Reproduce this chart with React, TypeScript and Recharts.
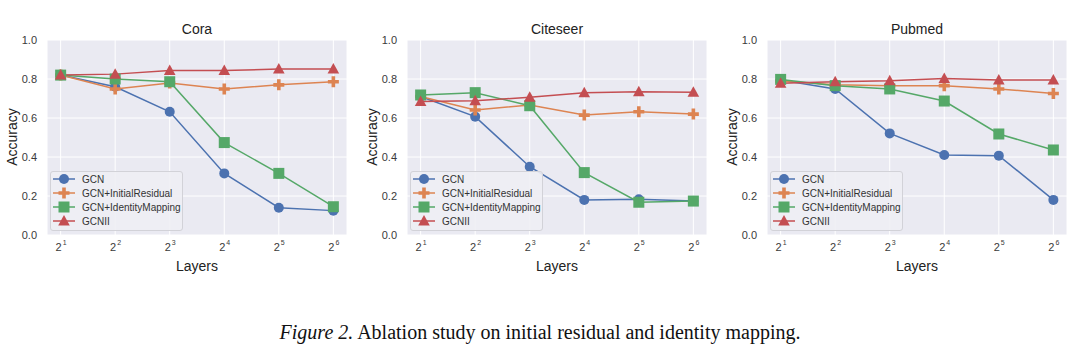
import React from 'react';
import { LineChart, Line, XAxis, YAxis, CartesianGrid, Legend } from 'recharts';

const layers = [1, 2, 3, 4, 5, 6];
const yTicks = [0, 0.2, 0.4, 0.6, 0.8, 1.0];

const coraGcn = [0.82, 0.76, 0.632, 0.316, 0.14, 0.125];
const coraInitialResidual = [0.82, 0.749, 0.78, 0.749, 0.77, 0.786];
const coraIdentityMapping = [0.82, 0.8, 0.786, 0.474, 0.316, 0.145];
const coraGcnii = [0.82, 0.825, 0.843, 0.843, 0.851, 0.851];

const citeseerGcn = [0.71, 0.607, 0.35, 0.18, 0.183, 0.174];
const citeseerInitialResidual = [0.71, 0.641, 0.667, 0.615, 0.632, 0.62];
const citeseerIdentityMapping = [0.718, 0.73, 0.663, 0.32, 0.168, 0.174];
const citeseerGcnii = [0.684, 0.689, 0.706, 0.73, 0.735, 0.732];

const pubmedGcn = [0.795, 0.749, 0.521, 0.41, 0.407, 0.18];
const pubmedInitialResidual = [0.79, 0.77, 0.766, 0.766, 0.749, 0.726];
const pubmedIdentityMapping = [0.798, 0.766, 0.749, 0.687, 0.518, 0.436];
const pubmedGcnii = [0.778, 0.786, 0.791, 0.803, 0.795, 0.795];

type Shape = 'circle' | 'plus' | 'square' | 'triangle';

const series: { key: string; name: string; color: string; shape: Shape }[] = [
  { key: 'gcn', name: 'GCN', color: '#4C72B0', shape: 'circle' },
  { key: 'ir', name: 'GCN+InitialResidual', color: '#DD8452', shape: 'plus' },
  { key: 'im', name: 'GCN+IdentityMapping', color: '#55A868', shape: 'square' },
  { key: 'gcnii', name: 'GCNII', color: '#C44E52', shape: 'triangle' },
];

const build = (gcn: number[], ir: number[], im: number[], gcnii: number[]) =>
  layers.map((x, i) => ({ x, gcn: gcn[i], ir: ir[i], im: im[i], gcnii: gcnii[i] }));

const panels = [
  { title: 'Cora', data: build(coraGcn, coraInitialResidual, coraIdentityMapping, coraGcnii) },
  { title: 'Citeseer', data: build(citeseerGcn, citeseerInitialResidual, citeseerIdentityMapping, citeseerGcnii) },
  { title: 'Pubmed', data: build(pubmedGcn, pubmedInitialResidual, pubmedIdentityMapping, pubmedGcnii) },
];

const FONT = '"Liberation Sans", Arial, sans-serif';

function Marker({ shape, color, cx, cy }: { shape: Shape; color: string; cx: number; cy: number }) {
  if (shape === 'circle') return <circle cx={cx} cy={cy} r={5} fill={color} />;
  if (shape === 'square') return <rect x={cx - 5.5} y={cy - 5.5} width={11} height={11} fill={color} />;
  if (shape === 'triangle')
    return <polygon points={`${cx},${cy - 6} ${cx + 5.8},${cy + 4.5} ${cx - 5.8},${cy + 4.5}`} fill={color} />;
  const a = 5.5;
  const t = 1.8;
  return (
    <polygon
      fill={color}
      points={`${cx - t},${cy - a} ${cx + t},${cy - a} ${cx + t},${cy - t} ${cx + a},${cy - t} ${cx + a},${cy + t} ${cx + t},${cy + t} ${cx + t},${cy + a} ${cx - t},${cy + a} ${cx - t},${cy + t} ${cx - a},${cy + t} ${cx - a},${cy - t} ${cx - t},${cy - t}`}
    />
  );
}

const makeDot = (shape: Shape, color: string) => (props: any) => (
  <Marker key={`${shape}-${props.index}`} shape={shape} color={color} cx={props.cx} cy={props.cy} />
);

const XTick = ({ x, y, payload }: any) => (
  <g fill="#3a3a3a" fontFamily={FONT}>
    <text x={x - 2} y={y + 16} fontSize={11} textAnchor="middle">
      2
    </text>
    <text x={x + 4} y={y + 10} fontSize={7} textAnchor="middle">
      {payload.value}
    </text>
  </g>
);

const YTick = ({ x, y, payload }: any) => (
  <text x={x - 10} y={y + 4} fill="#3a3a3a" fontFamily={FONT} fontSize={11} textAnchor="end">
    {payload.value.toFixed(1)}
  </text>
);

const LegendBox = () => (
  <div
    style={{
      width: 133,
      height: 60,
      boxSizing: 'border-box',
      background: 'rgba(238,238,244,0.9)',
      border: '1px solid #d2d2d8',
      borderRadius: 3,
    }}
  >
    <svg width={131} height={58} style={{ display: 'block' }}>
      {series.map((s, i) => {
        const cy = 7 + i * 14;
        return (
          <g key={s.key}>
            <line x1={2} x2={24} y1={cy} y2={cy} stroke={s.color} strokeWidth={1.5} />
            <Marker shape={s.shape} color={s.color} cx={13} cy={cy} />
            <text x={31} y={cy + 3.5} fontSize={10} fill="#333" fontFamily={FONT}>
              {s.name}
            </text>
          </g>
        );
      })}
    </svg>
  </div>
);

function Panel({ title, data, left }: { title: string; data: any[]; left: number }) {
  return (
    <div style={{ position: 'absolute', left, top: 0, width: 360, height: 290 }}>
      <LineChart width={360} height={290} data={data} margin={{ top: 40, right: 13, bottom: 25, left: 0 }}>
        <CartesianGrid fill="#EAEAF2" stroke="#ffffff" strokeWidth={1} />
        <XAxis
          dataKey="x"
          type="number"
          domain={[0.75, 6.25]}
          ticks={layers}
          axisLine={false}
          tickLine={false}
          tickSize={0}
          tickMargin={0}
          height={30}
          tick={<XTick />}
        />
        <YAxis
          type="number"
          domain={[0, 1]}
          ticks={yTicks}
          axisLine={false}
          tickLine={false}
          tickSize={0}
          tickMargin={0}
          width={47}
          tick={<YTick />}
        />
        <Legend
          layout="horizontal"
          verticalAlign="middle"
          align="center"
          content={<LegendBox />}
          wrapperStyle={{ position: 'absolute', left: 50, top: 171, width: 133, height: 60 }}
        />
        {series.map((s) => (
          <Line
            key={s.key}
            dataKey={s.key}
            name={s.name}
            stroke={s.color}
            strokeWidth={1.5}
            dot={makeDot(s.shape, s.color)}
            activeDot={false}
            isAnimationActive={false}
          />
        ))}
      </LineChart>
      <div
        style={{
          position: 'absolute',
          left: 47,
          width: 300,
          top: 21,
          textAlign: 'center',
          fontFamily: FONT,
          fontSize: 14,
          color: '#222',
        }}
      >
        {title}
      </div>
      <div
        style={{
          position: 'absolute',
          left: 47,
          width: 300,
          top: 258,
          textAlign: 'center',
          fontFamily: FONT,
          fontSize: 14,
          color: '#222',
        }}
      >
        Layers
      </div>
      <div
        style={{
          position: 'absolute',
          left: 12,
          top: 137,
          transform: 'translate(-50%, -50%) rotate(-90deg)',
          fontFamily: FONT,
          fontSize: 14,
          color: '#222',
          whiteSpace: 'nowrap',
        }}
      >
        Accuracy
      </div>
    </div>
  );
}

export default function App() {
  return (
    <div style={{ position: 'absolute', left: 0, top: 0, width: 1080, height: 355, background: '#fff', overflow: 'hidden' }}>
      {panels.map((p, i) => (
        <Panel key={p.title} title={p.title} data={p.data} left={i * 360} />
      ))}
      <div
        style={{
          position: 'absolute',
          left: 0,
          width: 1080,
          top: 321,
          textAlign: 'center',
          fontFamily: '"Liberation Serif", "Times New Roman", serif',
          fontSize: 20,
          color: '#111',
        }}
      >
        <i>Figure 2.</i> Ablation study on initial residual and identity mapping.
      </div>
    </div>
  );
}
